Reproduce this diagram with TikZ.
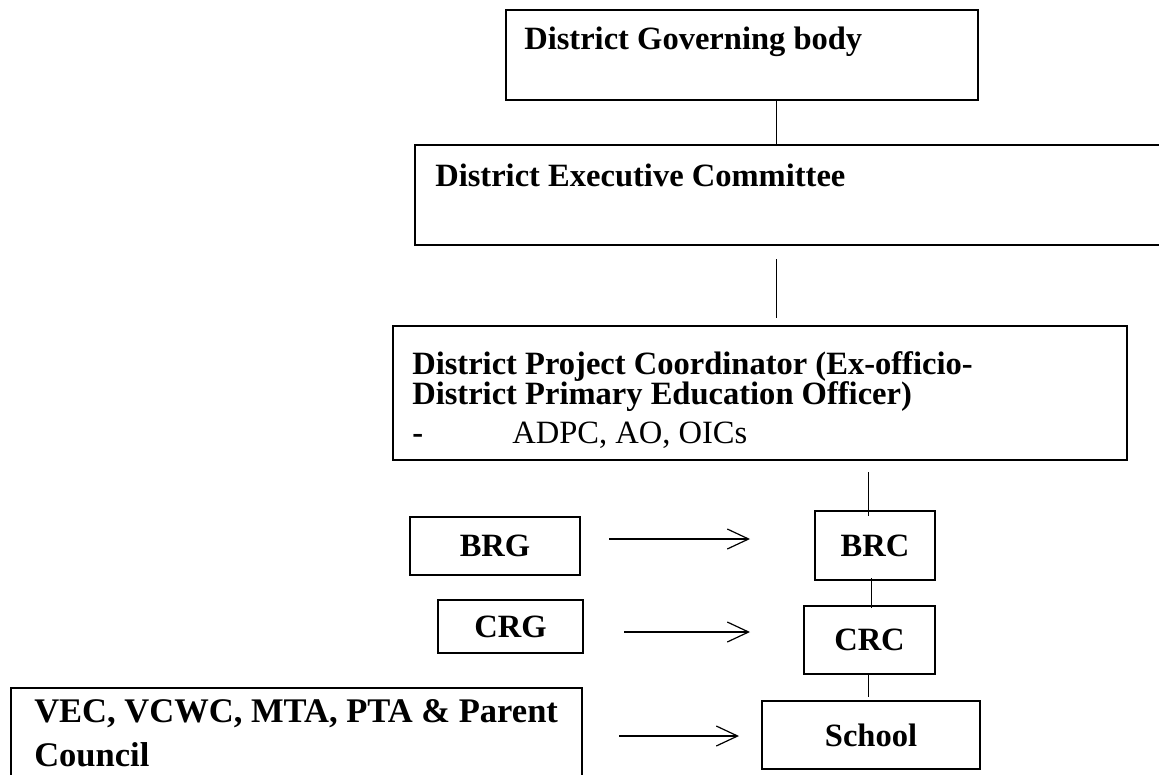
\documentclass[tikz,border=0pt]{standalone}
\usepackage{fontspec}
\setmainfont{Liberation Serif}
\usetikzlibrary{arrows.meta, calc}
\newcommand{\tightskip}{\lineskiplimit-8pt\relax}

\begin{document}
\begin{tikzpicture}[
  x=0.75pt, y=-0.75pt,
  font=\fontsize{24.4}{22.5}\selectfont\bfseries\tightskip,
  box/.style={
    rectangle, draw=black, line width=1.5pt,
    anchor=north west, inner sep=0pt
  },
  txt/.style={anchor=base west, inner sep=0pt, align=left},
  link/.style={line width=0.75pt},
  arrow/.style={-{Straight Barb[length=16pt, width=15pt]}, line width=0.9pt}
]
\useasboundingbox (0,0) rectangle (1159,774);
\clip (0,0) rectangle (1159,774);

% District level boxes
\node[box, minimum width=354pt, minimum height=67.5pt] (gov) at (505,9) {};
\node[txt] (govtext) at ($(gov.north west)+(19,41)$) {District Governing body};

\node[box, minimum width=567pt, minimum height=75pt] (exec) at (414,144) {};
\node[txt] (exectext) at ($(exec.north west)+(21,42)$) {District Executive Committee};

\node[box, minimum width=550.5pt, minimum height=100.5pt] (dpc) at (392,325) {};
% base anchor sits on the last line here
\node[txt] (dpctext) at ($(dpc.north west)+(20,118)$) {%
District Project Coordinator (Ex-officio-\\
District Primary Education Officer)\\[6.75pt]
\makebox[75pt][l]{-}{\mdseries ADPC, AO, OICs}%
};

% Block and cluster level
\node[box, minimum width=127.5pt, minimum height=43.5pt] (brg) at (409,516) {BRG};
\node[box, minimum width=90pt, minimum height=51.75pt] (brc) at (814,510) {BRC};
\node[box, minimum width=108.75pt, minimum height=39.75pt] (crg) at (437,599) {CRG};
\node[box, minimum width=98.25pt, minimum height=51pt] (crc) at (803,605) {CRC};

% Village level
\node[box, minimum width=428.25pt, minimum height=82.5pt] (vec) at (10,687) {};
\node[txt, font=\fontsize{25.9}{33}\selectfont\bfseries] (vectext)
  at ($(vec.north west)+(24,79)$) {VEC, VCWC, MTA, PTA \& Parent\\Council};
\node[box, minimum width=163.5pt, minimum height=51pt] (school) at (761,700) {School};

% Connectors
\coordinate (spine) at (776,0);
\draw[link] (gov.south -| spine) -- (exec.north -| spine);
\draw[link] ($(exec.south -| spine)+(0,13)$) -- ($(dpc.north -| spine)+(0,-7)$);
\draw[link] ($(dpc.south -| brc.north)+(-7,11)$) -- ($(brc.north)+(-7,6)$);
\draw[link] ($(brc.south)+(-4,-3)$) -- ($(crc.north)+(1.5,3)$);
\draw[link] ($(crc.south)+(-1.5,0)$) -- ($(school.north)+(-3,-3)$);

\draw[arrow] ($(brg.east)+(28,-7)$) -- ($(brc.west)+(-64,-6.5)$);
\draw[arrow] ($(crg.east)+(40,5.5)$) -- ($(crc.west)+(-53,-8)$);
\draw[arrow] ($(vec.east)+(36,-7)$) -- ($(school.west)+(-22,1)$);

\end{tikzpicture}
\end{document}
